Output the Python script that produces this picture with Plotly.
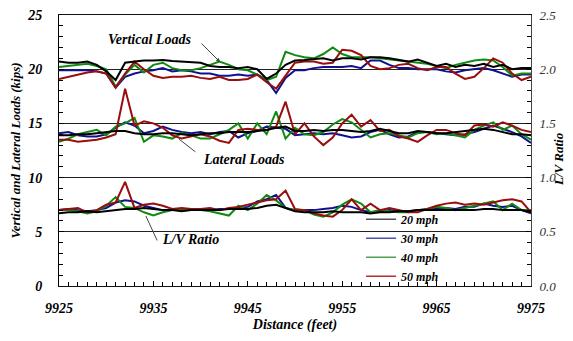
import plotly.graph_objects as go

# Distance along track (feet), 1-ft spacing
distance = list(range(9925, 9976))

# Vertical loads (kips)
vert_20 = [20.7, 20.6, 20.6, 20.7, 20.4, 19.8, 19.0, 20.6, 20.7, 20.8, 20.8, 20.85, 20.75, 20.7, 20.6, 20.6, 20.3,
           20.2, 20.2, 20.1, 20.2, 20.0, 19.1, 19.6, 20.4, 20.8, 20.85, 20.9, 21.0, 20.8, 21.0, 21.0, 20.9, 21.1,
           21.1, 21.0, 20.85, 20.7, 20.9, 20.6, 20.3, 20.5, 20.2, 20.4, 20.3, 20.5, 20.2, 20.4, 20.0, 20.1, 20.1]
vert_30 = [19.9, 19.9, 19.9, 19.9, 19.8, 19.6, 18.3, 19.3, 19.6, 19.8, 19.9, 20.1, 19.8, 19.9, 19.8, 19.6, 19.6,
           19.4, 19.4, 19.5, 19.4, 19.5, 19.0, 17.8, 19.2, 19.9, 19.9, 20.1, 20.2, 20.2, 20.2, 20.3, 20.1, 20.8,
           20.8, 20.4, 20.1, 20.1, 20.0, 20.0, 20.0, 19.8, 19.7, 19.9, 20.0, 20.1, 19.9, 19.6, 19.3, 19.5, 19.5]
vert_40 = [20.2, 20.3, 20.4, 20.5, 20.3, 20.0, 18.4, 19.5, 20.4, 19.7, 20.4, 20.6, 20.1, 19.9, 19.9, 20.1, 20.4,
           20.7, 20.4, 20.0, 19.9, 19.5, 19.0, 19.3, 21.6, 21.3, 21.1, 21.0, 21.4, 22.0, 21.4, 21.1, 21.1, 21.1,
           21.0, 20.9, 20.8, 20.7, 20.6, 20.5, 20.3, 20.1, 20.4, 20.6, 20.8, 20.9, 20.8, 20.2, 19.4, 19.6, 19.6]
vert_50 = [19.1, 19.3, 19.5, 19.7, 19.8, 19.6, 18.3, 19.6, 20.7, 20.0, 19.4, 19.2, 19.3, 19.3, 19.4, 19.2, 19.1,
           19.3, 19.0, 19.0, 19.1, 19.5, 18.8, 18.2, 19.4, 20.6, 20.7, 20.7, 20.5, 20.6, 21.8, 21.7, 21.3, 20.3,
           20.0, 20.1, 20.4, 20.5, 20.1, 19.9, 20.2, 20.2, 19.6, 19.1, 19.3, 20.1, 21.0, 20.6, 19.6, 19.0, 19.3]

# Lateral loads (kips)
lat_20 = [13.9, 13.9, 14.0, 14.0, 14.1, 14.2, 14.3, 14.3, 14.1, 14.0, 14.0, 14.1, 14.1, 14.0, 13.9, 14.0, 14.1,
          14.1, 14.2, 14.2, 14.2, 14.3, 14.4, 14.6, 14.7, 14.3, 14.3, 14.4, 14.3, 14.4, 14.4, 14.3, 14.2, 14.3,
          14.5, 14.3, 14.1, 14.1, 14.3, 14.2, 14.1, 14.1, 14.2, 14.3, 14.4, 14.5, 14.4, 14.2, 14.0, 14.0, 13.9]
lat_30 = [14.1, 14.2, 13.9, 13.8, 13.8, 14.0, 14.6, 15.1, 14.8, 14.1, 14.3, 14.7, 14.4, 14.2, 14.1, 14.2, 14.0,
          14.2, 14.3, 13.7, 14.1, 14.3, 14.7, 14.6, 14.5, 13.9, 14.0, 14.1, 14.0, 14.1, 13.9, 13.7, 13.8, 14.2,
          14.4, 14.0, 13.7, 13.8, 14.2, 14.2, 14.1, 14.0, 13.9, 14.0, 14.2, 14.5, 14.8, 14.5, 14.2, 13.8, 13.2]
lat_40 = [13.3, 13.6, 14.0, 14.2, 14.4, 13.9, 14.7, 15.0, 15.5, 13.3, 13.9, 13.8, 13.6, 14.1, 13.9, 13.6, 13.6,
          14.0, 14.4, 15.0, 13.6, 15.0, 14.0, 16.1, 13.6, 14.6, 14.0, 13.9, 14.2, 14.9, 15.4, 15.1, 14.4, 13.7,
          14.0, 14.1, 13.9, 13.7, 14.1, 14.2, 14.0, 14.1, 13.9, 13.7, 14.4, 14.8, 15.1, 14.4, 14.8, 14.0, 13.5]
lat_50 = [13.5, 13.5, 13.3, 13.4, 13.5, 13.7, 14.0, 18.2, 14.8, 15.2, 15.0, 14.6, 13.9, 13.6, 13.8, 14.0, 13.8,
          13.4, 13.2, 14.4, 14.5, 14.4, 14.4, 14.7, 17.0, 14.0, 15.0, 13.8, 13.0, 13.7, 15.0, 15.8, 14.7, 15.3,
          14.3, 14.4, 13.8, 13.6, 13.3, 13.9, 14.4, 14.4, 14.1, 13.9, 14.8, 14.9, 14.7, 15.1, 14.8, 14.4, 14.2]

# L/V ratio
lv_20 = [0.67, 0.68, 0.68, 0.69, 0.68, 0.69, 0.70, 0.71, 0.71, 0.72, 0.71, 0.70, 0.70, 0.69, 0.70, 0.70, 0.70,
         0.70, 0.71, 0.71, 0.71, 0.72, 0.74, 0.75, 0.72, 0.69, 0.68, 0.68, 0.68, 0.69, 0.68, 0.68, 0.68, 0.67,
         0.68, 0.68, 0.69, 0.69, 0.70, 0.70, 0.70, 0.70, 0.70, 0.70, 0.70, 0.71, 0.71, 0.70, 0.70, 0.70, 0.68]
lv_30 = [0.70, 0.71, 0.70, 0.69, 0.70, 0.72, 0.77, 0.79, 0.78, 0.74, 0.72, 0.70, 0.70, 0.70, 0.71, 0.71, 0.70,
         0.71, 0.71, 0.72, 0.73, 0.78, 0.80, 0.84, 0.72, 0.70, 0.70, 0.70, 0.71, 0.72, 0.74, 0.73, 0.70, 0.68,
         0.69, 0.70, 0.69, 0.69, 0.70, 0.71, 0.72, 0.72, 0.71, 0.73, 0.73, 0.76, 0.74, 0.73, 0.74, 0.70, 0.67]
lv_40 = [0.70, 0.70, 0.69, 0.67, 0.69, 0.74, 0.82, 0.73, 0.72, 0.68, 0.65, 0.68, 0.70, 0.70, 0.70, 0.70, 0.69,
         0.67, 0.65, 0.74, 0.70, 0.76, 0.84, 0.79, 0.72, 0.70, 0.70, 0.66, 0.64, 0.68, 0.75, 0.80, 0.76, 0.68,
         0.70, 0.69, 0.68, 0.68, 0.70, 0.71, 0.73, 0.72, 0.70, 0.72, 0.74, 0.76, 0.78, 0.70, 0.76, 0.70, 0.70]
lv_50 = [0.70, 0.71, 0.72, 0.68, 0.70, 0.75, 0.77, 0.96, 0.72, 0.75, 0.76, 0.74, 0.71, 0.72, 0.71, 0.71, 0.72,
         0.70, 0.72, 0.73, 0.75, 0.77, 0.79, 0.80, 0.88, 0.71, 0.70, 0.67, 0.65, 0.64, 0.70, 0.80, 0.70, 0.76,
         0.70, 0.72, 0.70, 0.68, 0.68, 0.71, 0.74, 0.76, 0.77, 0.75, 0.76, 0.75, 0.77, 0.79, 0.80, 0.78, 0.68]

speeds = ["20 mph", "30 mph", "40 mph", "50 mph"]
colors = ["#000000", "#101090", "#108a10", "#9a0d0d"]
legend_colors = ["#505050", "#5050b0", "#50a050", "#b03030"]

vert = [vert_20, vert_30, vert_40, vert_50]
lat = [lat_20, lat_30, lat_40, lat_50]
lv = [lv_20, lv_30, lv_40, lv_50]

SERIF = "Liberation Serif, Times New Roman, Times, serif"


def bi(size=13, color="black"):
    return dict(family=SERIF, size=size, color=color, weight="bold", style="italic")


fig = go.Figure()
draw_order = [1, 2, 3, 0]
for k in draw_order:
    fig.add_trace(go.Scatter(x=distance, y=vert[k], mode="lines", line=dict(color=colors[k], width=2),
                             showlegend=False, hoverinfo="skip"))
    fig.add_trace(go.Scatter(x=distance, y=lat[k], mode="lines", line=dict(color=colors[k], width=2),
                             showlegend=False, hoverinfo="skip"))
    fig.add_trace(go.Scatter(x=distance, y=lv[k], mode="lines", line=dict(color=colors[k], width=2),
                             yaxis="y2", showlegend=False, hoverinfo="skip"))

# legend-only entries
for k in range(4):
    fig.add_trace(go.Scatter(x=[None], y=[None], mode="lines", name=speeds[k],
                             line=dict(color=legend_colors[k], width=1.5)))

# The page body has an 8px margin; size the figure so the page does not scroll
fig.update_layout(
    width=565, height=325,
    margin=dict(l=51, r=42, t=7, b=47),
    plot_bgcolor="white", paper_bgcolor="white",
    showlegend=True,
    legend=dict(x=0.64, y=0.30, xanchor="left", yanchor="top", bgcolor="rgba(0,0,0,0)",
                font=bi(12), tracegroupgap=0, itemwidth=30),
    xaxis=dict(range=[9925, 9975], dtick=10, tick0=9925, tickformat="d", showgrid=False, zeroline=False,
               showline=True, linecolor="#111111", linewidth=1, mirror=True, automargin=False,
               ticks="inside", ticklen=5, tickcolor="black", ticklabeloverflow="allow",
               minor=dict(dtick=1, ticks="inside", ticklen=4, tickcolor="black", showgrid=False),
               tickfont=bi(14), ticklabelstandoff=9,
               title=dict(text="Distance (feet)", font=bi(14), standoff=6)),
    yaxis=dict(range=[0, 25], dtick=5, showgrid=True, gridcolor="#222222", gridwidth=1, zeroline=False,
               showline=True, linecolor="black", linewidth=1, automargin=False,
               ticks="inside", ticklen=5, tickcolor="black", ticklabeloverflow="allow",
               minor=dict(dtick=1, ticks="inside", ticklen=4, tickcolor="black", showgrid=False),
               tickfont=bi(14), ticklabelstandoff=13,
               title=dict(text="Vertical and Lateral Loads (kips)", font=bi(13), standoff=9)),
    yaxis2=dict(range=[0, 2.5], dtick=0.5, tickformat=".1f", overlaying="y", side="right",
                showgrid=False, zeroline=False, showline=True, linecolor="#444444", linewidth=1,
                automargin=False, ticklabeloverflow="allow",
                ticks="inside", ticklen=5, tickcolor="black",
                minor=dict(dtick=0.1, ticks="inside", ticklen=4, tickcolor="black", showgrid=False),
                tickfont=dict(family=SERIF, size=13, color="#333333", style="italic"),
                ticklabelstandoff=5),
)

# right-hand axis title
fig.add_annotation(xref="paper", yref="paper", x=1.058, y=0.47, text="L/V Ratio", textangle=-90,
                   showarrow=False, font=bi(13), xanchor="center", yanchor="middle")

ann_font = bi(14)
fig.add_annotation(x=9934.6, y=22.7, text="Vertical Loads", showarrow=False, font=ann_font)
fig.add_annotation(x=9942.06, y=20.66, text="", showarrow=True, ax=-20, ay=-20,
                   arrowhead=2, arrowsize=0.8, arrowwidth=1, arrowcolor="#444444")
fig.add_annotation(x=9944.6, y=11.7, text="Lateral Loads", showarrow=False, font=ann_font)
fig.add_annotation(x=9937.7, y=13.56, text="", showarrow=True, ax=18, ay=14,
                   arrowhead=0, arrowwidth=1, arrowcolor="#444444")
fig.add_annotation(x=9938.9, y=4.25, text="L/V Ratio", showarrow=False, font=ann_font)
fig.add_annotation(x=9934.2, y=6.46, text="", showarrow=True, ax=12, ay=26,
                   arrowhead=0, arrowwidth=1, arrowcolor="#444444")

fig.write_html("out.html", config={"displayModeBar": False})
